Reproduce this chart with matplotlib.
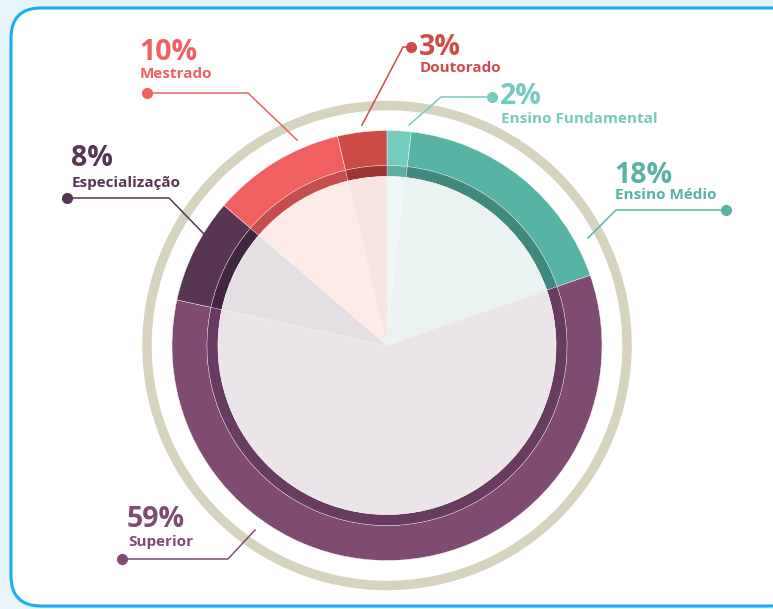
import matplotlib

matplotlib.use('Agg')
import matplotlib.pyplot as plt
from matplotlib.patches import Circle, FancyBboxPatch

# Data (slice sizes, labels as printed)
categories = ['Ensino Fundamental', 'Ensino Médio', 'Superior', 'Especialização', 'Mestrado', 'Doutorado']
values = [1.8, 17.9, 58.7, 7.9, 10.0, 3.7]
pct_labels = ['2%', '18%', '59%', '8%', '10%', '3%']

outer_colors = ['#76cbbf', '#57b3a4', '#7f4b73', '#573653', '#f06060', '#cf4b47']
dark_colors = ['#5faea2', '#3f8a7d', '#683c60', '#42263f', '#c54d4d', '#9c3636']
pale_colors = ['#eef7f6', '#eaf3f2', '#ebe4e9', '#e5dee3', '#feebe8', '#f7e5e1']
text_colors = ['#76cbbf', '#57b3a4', '#7f4b73', '#573653', '#f06060', '#cf4b47']

# label layout in pixel coords: text x, pct baseline, name baseline, dot, elbow, end
label_layout = {
    'Ensino Fundamental': dict(tx=500, py=104, ny=123, dot=(492, 97), elbow=(441, 97), end=(409, 125)),
    'Ensino Médio': dict(tx=614, py=183, ny=199, dot=(726, 210), elbow=(616, 210), end=(588, 238)),
    'Superior': dict(tx=127, py=527, ny=546, dot=(122, 559), elbow=(228, 559), end=(255, 530)),
    'Especialização': dict(tx=71, py=166, ny=187, dot=(67, 198), elbow=(169, 198), end=(204, 234)),
    'Mestrado': dict(tx=139, py=60, ny=78, dot=(147, 93), elbow=(248, 93), end=(297, 140)),
    'Doutorado': dict(tx=419, py=55, ny=72, dot=(411, 47), elbow=(403, 47), end=(362, 125)),
}

W, H = 773, 609
cx, cy = 387, 345.5

fig = plt.figure(figsize=(W / 100, H / 100), dpi=100, facecolor='#e8f4fb')
ax = fig.add_axes([0, 0, 1, 1])

# card background
card = FancyBboxPatch((11, H - 606), 790, 598, boxstyle='round,pad=0,rounding_size=30',
                      facecolor='white', edgecolor='#1aaef0', linewidth=2.2, zorder=0)
ax.add_patch(card)

center = (cx, H - cy)

# outer coloured ring
ax.pie(values, colors=outer_colors, radius=215, center=center, startangle=90, counterclock=False,
       wedgeprops=dict(width=35, edgecolor='#ffffff', linewidth=0.3), frame=True)
# dark inner ring
ax.pie(values, colors=dark_colors, radius=180, center=center, startangle=90, counterclock=False,
       wedgeprops=dict(width=11, edgecolor='#ffffff', linewidth=0.2), frame=True)
# pale fill
ax.pie(values, colors=pale_colors, radius=169, center=center, startangle=90, counterclock=False,
       wedgeprops=dict(edgecolor='#f4eef0', linewidth=0.4), frame=True)

# beige ring
ax.add_patch(Circle(center, 240, facecolor='none', edgecolor='#d6d3bf', linewidth=6.8, zorder=1))

ax.set_xlim(0, W)
ax.set_ylim(0, H)
ax.set_aspect('equal')
ax.axis('off')

for cat, pct, tc in zip(categories, pct_labels, text_colors):
    lay = label_layout[cat]
    xs = [lay['dot'][0], lay['elbow'][0], lay['end'][0]]
    ys = [H - lay['dot'][1], H - lay['elbow'][1], H - lay['end'][1]]
    ax.plot(xs, ys, color=tc, linewidth=1.1, zorder=5)
    ax.plot(xs[0], ys[0], 'o', color=tc, markersize=7, zorder=6)
    ax.text(lay['tx'], H - lay['py'], pct, color=tc, fontsize=20.5, fontweight='bold',
            family='Open Sans', va='baseline', ha='left')
    ax.text(lay['tx'] + 1, H - lay['ny'], cat, color=tc, fontsize=11, fontweight='bold',
            family='Open Sans', va='baseline', ha='left')

plt.savefig('out.png', dpi=100, facecolor=fig.get_facecolor())
